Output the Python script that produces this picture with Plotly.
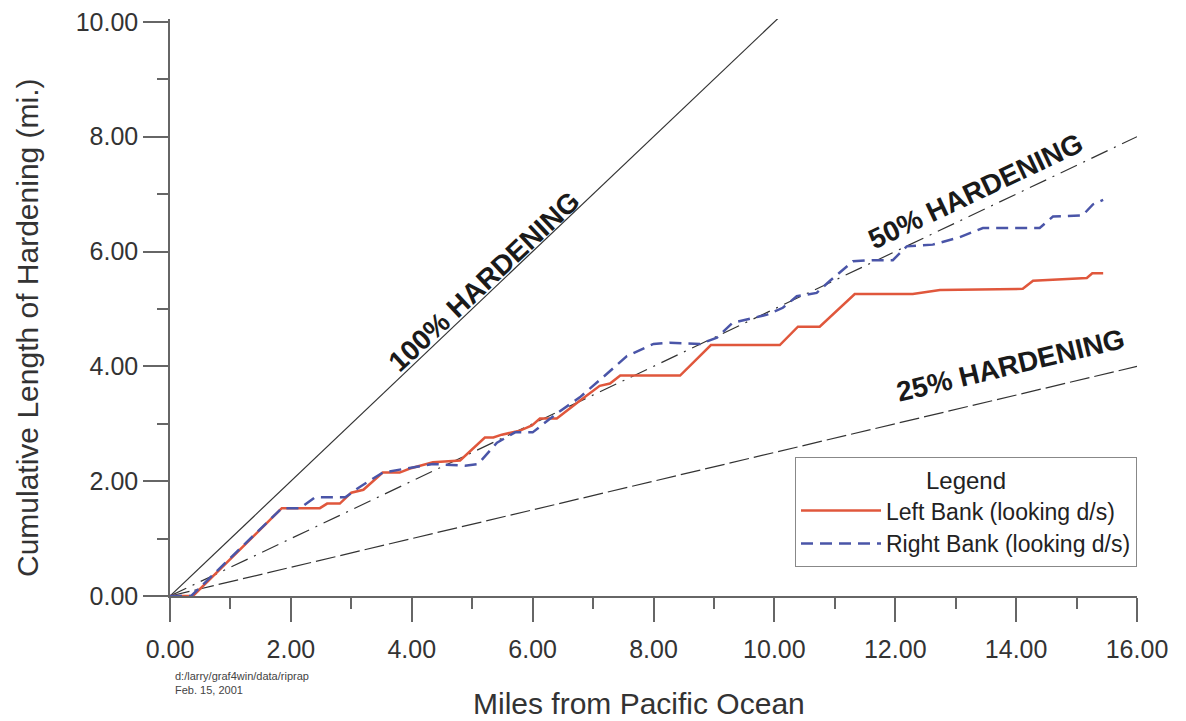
import plotly.graph_objects as go

# Left bank (looking d/s)
left_x = [0, 0.38, 1.85, 2.48, 2.6, 2.81, 3.0, 3.2, 3.52, 3.8, 3.97, 4.35, 4.8, 5.21,
          5.35, 5.49, 5.79, 5.99, 6.12, 6.4, 6.78, 7.11, 7.28, 7.45, 8.44, 8.95,
          10.09, 10.39, 10.75, 11.33, 12.29, 12.74, 14.11, 14.28, 15.17, 15.26, 15.44]
left_y = [0, 0, 1.53, 1.53, 1.61, 1.61, 1.8, 1.85, 2.15, 2.15, 2.22, 2.33, 2.36, 2.76,
          2.76, 2.81, 2.88, 2.97, 3.09, 3.09, 3.4, 3.66, 3.7, 3.84, 3.84, 4.37,
          4.37, 4.69, 4.69, 5.26, 5.26, 5.33, 5.35, 5.49, 5.54, 5.62, 5.62]

# Right bank (looking d/s)
right_x = [0, 0.35, 1.85, 2.15, 2.4, 2.9, 3.14, 3.52, 4.35, 4.88, 5.1, 5.41, 5.71, 6.0,
           6.4, 6.78, 7.23, 7.56, 8.0, 8.27, 8.77, 9.05, 9.31, 9.88, 10.14, 10.37,
           10.7, 10.92, 11.3, 11.63, 11.96, 12.19, 12.62, 13.07, 13.45, 14.39, 14.61,
           15.1, 15.27, 15.44]
right_y = [0, 0, 1.53, 1.53, 1.72, 1.72, 1.9, 2.15, 2.3, 2.27, 2.3, 2.67, 2.85, 2.85,
           3.18, 3.46, 3.87, 4.18, 4.39, 4.41, 4.39, 4.5, 4.76, 4.9, 5.02, 5.22,
           5.28, 5.49, 5.83, 5.85, 5.85, 6.09, 6.12, 6.25, 6.41, 6.41, 6.61,
           6.63, 6.82, 6.9]

# reference hardening lines (fraction of river length)
ref_fracs = [1.0, 0.5, 0.25]
ref_end_x = [10.1, 16.0, 16.0]
ref_dash = ["solid", "18px,7px,2px,7px", "20px,5px"]
ref_labels = ["100% HARDENING", "50% HARDENING", "25% HARDENING"]
label_x = [5.2, 13.32, 13.9]
label_y = [5.47, 7.05, 4.01]
label_angle = [-43.0, -25.3, -13.5]

font = "Liberation Sans, Arial, sans-serif"

fig = go.Figure()

for f, xe, d in zip(ref_fracs, ref_end_x, ref_dash):
    fig.add_trace(go.Scatter(
        x=[0, xe], y=[0, xe * f], mode="lines", cliponaxis=False,
        line=dict(color="#333333", width=1.2, dash=d),
        showlegend=False, hoverinfo="skip",
    ))

fig.add_trace(go.Scatter(
    x=left_x, y=left_y, mode="lines", name="Left Bank (looking d/s)",
    line=dict(color="#e0573c", width=2.5),
))
fig.add_trace(go.Scatter(
    x=right_x, y=right_y, mode="lines", name="Right Bank (looking d/s)",
    line=dict(color="#4a55a8", width=2.5, dash="12px,7px"),
))

for t, lx, ly, a in zip(ref_labels, label_x, label_y, label_angle):
    fig.add_annotation(
        x=lx, y=ly, text="<b>" + t + "</b>", showarrow=False, textangle=a,
        font=dict(family=font, size=28, color="#1a1a1a"),
    )

# axis titles placed as annotations for exact positioning
fig.add_annotation(
    xref="paper", yref="paper", x=-0.148, y=0.466, xanchor="center", yanchor="middle",
    textangle=-90, showarrow=False,
    text="Cumulative Length of Hardening (mi.)",
    font=dict(family=font, size=30, color="#333333"),
)
fig.add_annotation(
    xref="paper", yref="paper", x=0.485, y=-0.187, xanchor="center", yanchor="middle",
    showarrow=False,
    text="Miles from Pacific Ocean",
    font=dict(family=font, size=30, color="#333333"),
)

# file stamp under the axis
fig.add_annotation(
    xref="paper", yref="paper", x=0.003, y=-0.125, xanchor="left", yanchor="top",
    text="d:/larry/graf4win/data/riprap<br>Feb. 15, 2001", showarrow=False, align="left",
    font=dict(family=font, size=11, color="#444444"),
)

fig.update_layout(
    width=1186, height=721,
    margin=dict(l=162, r=57, t=11, b=133),
    plot_bgcolor="white", paper_bgcolor="white",
    font=dict(family=font, color="#333333"),
    legend=dict(
        x=1, y=0.241, xanchor="right", yanchor="top",
        title=dict(text="Legend", side="top center", font=dict(family=font, size=24)),
        font=dict(family=font, size=23, color="#222222"),
        bordercolor="#888888", borderwidth=1, bgcolor="white",
        itemwidth=80, tracegroupgap=0,
    ),
    xaxis=dict(
        range=[0, 16], dtick=2, tickformat=".2f", automargin=False,
        showline=True, linecolor="#666666", linewidth=1.5,
        ticks="outside", ticklen=24, tickcolor="#666666", tickwidth=1.5,
        minor=dict(dtick=1, ticks="outside", ticklen=11, tickcolor="#666666", tickwidth=1.5),
        tickfont=dict(size=25, color="#333333"), ticklabelstandoff=6,
        ticklabeloverflow="allow",
        showgrid=False, zeroline=False,
    ),
    yaxis=dict(
        range=[0, 10.05], tickvals=[0, 2, 4, 6, 8, 10], tickformat=".2f",
        ticksuffix="\u00a0", automargin=False,
        showline=True, linecolor="#666666", linewidth=1.5,
        ticks="outside", ticklen=25, tickcolor="#666666", tickwidth=1.5,
        minor=dict(dtick=1, ticks="outside", ticklen=11, tickcolor="#666666", tickwidth=1.5),
        tickfont=dict(size=25, color="#333333"), ticklabeloverflow="allow",
        showgrid=False, zeroline=False,
    ),
)

fig.write_html("out.html")
